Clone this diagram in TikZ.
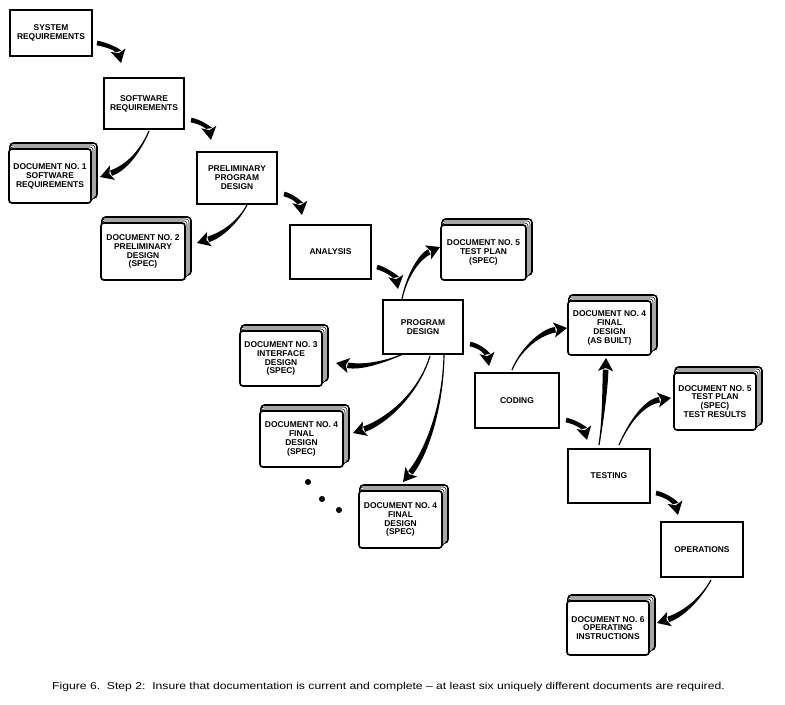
\documentclass[tikz,border=0pt]{standalone}
\usepackage{fontspec}
\setmainfont{Liberation Sans}
\usetikzlibrary{calc}
\newcommand\boxfont{\bfseries\fontsize{7.2}{7.6}\selectfont}
\tikzset{
  box/.style={draw, line width=1.5pt, fill=white, anchor=north west, outer sep=0pt,
    inner sep=1pt, align=center, font=\boxfont},
  cover/.style={box, line width=1.4pt, rounded corners=2.5pt},
  backcover/.style={draw, line width=1.3pt, fill=white, rounded corners=3pt},
  pagesheet/.style={draw, line width=0.45pt, fill=white, rounded corners=2.5pt},
  dotmark/.style={fill=black},
}
% process box: name, x0, y0, x1, y1, text
\newcommand\pbox[6]{%
  \node[box, minimum width={(#4-#2)*0.03cm}, minimum height={(#5-#3)*0.03cm}] (#1) at (#2,#3) {#6};}
% document (book): name, x0, y0, x1, y1 of the front cover, text
\newcommand\pbook[6]{%
  \path[backcover] (#2+1,#3-6) rectangle (#4+6,#5-5);
  \path[pagesheet] (#2+1,#3-4) rectangle (#4+4,#5-4);
  \path[pagesheet] (#2+1,#3-2) rectangle (#4+2,#5-2);
  \node[cover, minimum width={(#4-#2)*0.03cm}, minimum height={(#5-#3)*0.03cm}] (#1) at (#2,#3) {#6};}
% tapered arrow: start, control 1, control 2, tip, start half width, end half width
\newcommand\tarrow[6]{%
  \coordinate (ta) at #1; \coordinate (tc1) at #2; \coordinate (tc2) at #3; \coordinate (tt) at #4;
  \coordinate (tb) at ($(tt)!10pt!(tc2)$);
  \fill ($(ta)!#5!90:(tc1)$) .. controls ($(tc1)!#5!-90:(ta)$) and ($(tc2)!#6!90:(tt)$) .. ($(tb)!#6!90:(tt)$)
     -- ($(tb)!#6!-90:(tt)$) .. controls ($(tc2)!#6!-90:(tt)$) and ($(tc1)!#5!90:(ta)$) .. ($(ta)!#5!-90:(tc1)$) -- cycle;
  \fill (tt) -- ($(tt)!13pt!30:(tc2)$) -- ($(tt)!8.5pt!(tc2)$) -- ($(tt)!13pt!-30:(tc2)$) -- cycle;}
\begin{document}
\begin{tikzpicture}[x=0.03cm, y=-0.03cm]
\useasboundingbox[fill=white] (0,0) rectangle (785,705);

% process boxes
\pbox{sys}{10}{10}{92}{56}{SYSTEM\\REQUIREMENTS}
\pbox{sw}{104}{78}{184}{129}{SOFTWARE\\REQUIREMENTS}
\pbox{prelim}{197}{152}{277}{204}{PRELIMINARY\\PROGRAM\\DESIGN}
\pbox{analysis}{290}{225}{371}{279}{ANALYSIS}
\pbox{pd}{383}{300}{463}{354}{PROGRAM\\DESIGN}
\pbox{coding}{475}{373}{559}{428}{CODING}
\pbox{testing}{568}{449}{650}{503}{TESTING}
\pbox{ops}{661}{522}{743}{577}{OPERATIONS}

% documents
\pbook{doc1}{9}{149}{91}{203}{DOCUMENT NO. 1\\SOFTWARE\\REQUIREMENTS}
\pbook{doc2}{101}{223}{185}{280}{DOCUMENT NO. 2\\PRELIMINARY\\DESIGN\\(SPEC)}
\pbook{docfive}{441}{225}{526}{280}{DOCUMENT NO. 5\\TEST PLAN\\(SPEC)}
\pbook{doc3}{240}{331}{322}{386}{DOCUMENT NO. 3\\INTERFACE\\DESIGN\\(SPEC)}
\pbook{docfoura}{260}{411}{343}{467}{DOCUMENT NO. 4\\FINAL\\DESIGN\\(SPEC)}
\pbook{docfourb}{359}{491}{442}{548}{DOCUMENT NO. 4\\FINAL\\DESIGN\\(SPEC)}
\pbook{docfourc}{568}{301}{651}{355}{DOCUMENT NO. 4\\FINAL\\DESIGN\\(AS BUILT)}
\pbook{docfiveb}{674}{373}{756}{430}{DOCUMENT NO. 5\\TEST PLAN\\(SPEC)\\TEST RESULTS}
\pbook{doc6}{567}{601}{649}{655}{DOCUMENT NO. 6\\OPERATING\\INSTRUCTIONS}

% arrows
\tarrow{(97,43)}{(108,45)}{(118,50)}{(121,63)}{2pt}{2.6pt}
\tarrow{(191,120)}{(201,122)}{(209,128)}{(211,140)}{2pt}{2.6pt}
\tarrow{(149,131)}{(140,152)}{(126,168)}{(100,177)}{0.5pt}{2.4pt}
\tarrow{(247,205)}{(238,222)}{(222,235)}{(197,243)}{0.5pt}{2.4pt}
\tarrow{(284,194)}{(293,196)}{(300,203)}{(302,215)}{2pt}{2.6pt}
\tarrow{(377,267)}{(387,270)}{(396,277)}{(398,289)}{2pt}{2.6pt}
\tarrow{(402,299)}{(407,275)}{(420,256)}{(440,247)}{0.5pt}{2.4pt}
\tarrow{(403,354)}{(385,362)}{(362,368)}{(336,363)}{0.5pt}{2.4pt}
\tarrow{(430,356)}{(418,395)}{(385,422)}{(353,433)}{0.5pt}{2.4pt}
\tarrow{(444,355)}{(443,410)}{(425,455)}{(403,482)}{0.5pt}{2.4pt}
\tarrow{(470,344)}{(480,346)}{(487,353)}{(489,366)}{2pt}{2.6pt}
\tarrow{(512,370)}{(520,350)}{(540,332)}{(567,328)}{0.5pt}{2.4pt}
\tarrow{(566,420)}{(576,422)}{(584,428)}{(587,440)}{2pt}{2.6pt}
\tarrow{(599,445)}{(603,420)}{(605,390)}{(606,358)}{0.5pt}{2.4pt}
\tarrow{(619,445)}{(630,420)}{(645,402)}{(671,398)}{0.5pt}{2.4pt}
\tarrow{(656,493)}{(666,495)}{(675,502)}{(678,515)}{2pt}{2.6pt}
\tarrow{(711,580)}{(700,600)}{(682,615)}{(657,623)}{0.5pt}{2.4pt}

% ellipsis dots
\fill[dotmark] (308,482) circle (2.6pt);
\fill[dotmark] (322,499) circle (2.6pt);
\fill[dotmark] (339,510) circle (2.6pt);

% caption
\node[anchor=base west, inner sep=0pt] (caption) at (52,689)
  {\resizebox{574pt}{6.2pt}{Figure 6.\ \ Step 2:\ \ Insure that documentation is current and complete -- at least six uniquely different documents are required.}};
\end{tikzpicture}
\end{document}
